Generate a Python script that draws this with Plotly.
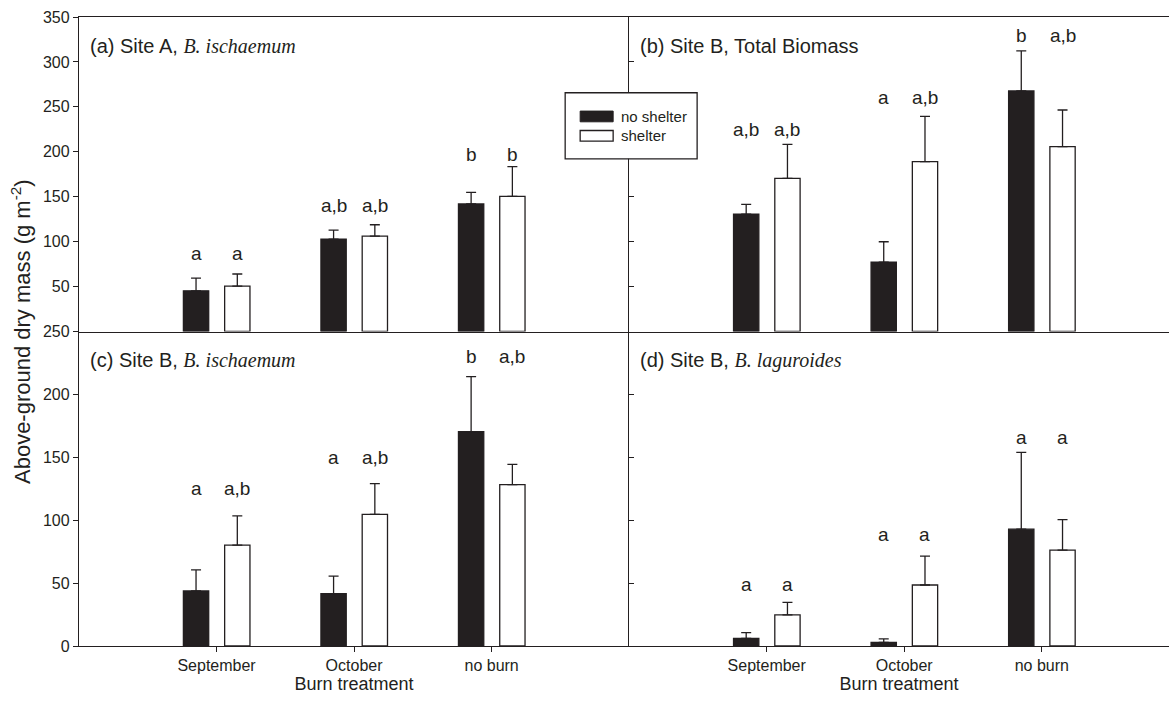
import plotly.graph_objects as go

# ---------------- data ----------------
categories = ["September", "October", "no burn"]

a_no_shelter = [45.3, 102.9, 141.9]
a_no_shelter_se = [14.2, 10.0, 12.9]
a_shelter = [50.5, 106.2, 150.3]
a_shelter_se = [13.5, 12.6, 33.1]

b_no_shelter = [130.7, 77.3, 267.7]
b_no_shelter_se = [10.7, 22.6, 44.5]
b_shelter = [170.4, 189.0, 205.7]
b_shelter_se = [37.8, 50.4, 40.8]

c_no_shelter = [43.8, 41.7, 170.4]
c_no_shelter_se = [16.7, 13.8, 43.8]
c_shelter = [80.2, 104.6, 128.2]
c_shelter_se = [23.3, 24.4, 16.2]

d_no_shelter = [6.1, 2.9, 92.9]
d_no_shelter_se = [4.5, 2.7, 61.0]
d_shelter = [24.7, 48.5, 76.2]
d_shelter_se = [9.9, 23.0, 24.3]

# significance letters, (no shelter, shelter) per burn treatment
a_letters = [("a", "a"), ("a,b", "a,b"), ("b", "b")]
b_letters = [("a,b", "a,b"), ("a", "a,b"), ("b", "a,b")]
c_letters = [("a", "a,b"), ("a", "a,b"), ("b", "a,b")]
d_letters = [("a", "a"), ("a", "a"), ("a", "a")]

# ---------------- layout constants ----------------
W, H = 1169, 702
ML, MR, MT, MB = 78.7, 0, 17.3, 56.3
INK = "#231f20"
SANS = "Liberation Sans, Arial, sans-serif"

BAR_W = 0.184
OFF_NS = -0.149   # centre offset of the no-shelter bar
OFF_S = 0.151     # centre offset of the shelter bar

# baseline height (data units) of each group's letters
letter_heights = {
    "a": [80.0, 133.0, 189.3],
    "b": [217.9, 253.2, 322.3],
    "c": [120.0, 144.7, 224.8],
    "d": [43.4, 83.4, 160.6],
}


def px_x(px):
    return (px - ML) / (W - ML - MR)


def px_y(py):
    return (H - MB - py) / (H - MT - MB)


x_split = px_x(629)
right_range = (W - 629) / ((629 - ML) / 4.0)

panels = [
    ("a", a_no_shelter, a_no_shelter_se, a_shelter, a_shelter_se, a_letters),
    ("b", b_no_shelter, b_no_shelter_se, b_shelter, b_shelter_se, b_letters),
    ("c", c_no_shelter, c_no_shelter_se, c_shelter, c_shelter_se, c_letters),
    ("d", d_no_shelter, d_no_shelter_se, d_shelter, d_shelter_se, d_letters),
]

fig = go.Figure()
annotations = []
pos = [1, 2, 3]

for i, (key, ns, ns_se, s, s_se, letters) in enumerate(panels):
    n = i + 1
    xa = "x" if n == 1 else f"x{n}"
    ya = "y" if n == 1 else f"y{n}"
    err_style = dict(type="data", symmetric=False, color=INK, thickness=1.3, width=5)
    fig.add_trace(go.Bar(
        x=pos, y=ns, width=BAR_W, offset=OFF_NS - BAR_W / 2,
        marker=dict(color=INK, line=dict(color=INK, width=1.3)),
        error_y=dict(array=ns_se, arrayminus=[0] * len(ns), **err_style),
        xaxis=xa, yaxis=ya, showlegend=False, name="no shelter",
    ))
    fig.add_trace(go.Bar(
        x=pos, y=s, width=BAR_W, offset=OFF_S - BAR_W / 2,
        marker=dict(color="white", line=dict(color=INK, width=1.3)),
        error_y=dict(array=s_se, arrayminus=[0] * len(s), **err_style),
        xaxis=xa, yaxis=ya, showlegend=False, name="shelter",
    ))
    for j, (l_ns, l_s) in enumerate(letters):
        for txt, off in ((l_ns, OFF_NS), (l_s, OFF_S)):
            annotations.append(dict(
                x=pos[j] + off, y=letter_heights[key][j], xref=xa, yref=ya,
                text=txt, showarrow=False, yanchor="bottom", yshift=-6,
                font=dict(family=SANS, size=19, color=INK),
            ))

# panel titles
italic = "<i><span style='font-family:Liberation Serif'>{}</span></i>"
titles = [
    ("(a) Site A, " + italic.format("B. ischaemum"), 88, 46.7),
    ("(b) Site B, Total Biomass", 638, 46.7),
    ("(c) Site B, " + italic.format("B. ischaemum"), 88, 360),
    ("(d) Site B, " + italic.format("B. laguroides"), 638, 360),
]
for txt, x, y in titles:
    annotations.append(dict(
        x=px_x(x), y=px_y(y), xref="paper", yref="paper", text=txt,
        showarrow=False, xanchor="left", yanchor="middle",
        font=dict(family=SANS, size=20, color=INK),
    ))

# y-axis title
annotations.append(dict(
    x=px_x(20), y=px_y(331.7), xref="paper", yref="paper",
    text="Above-ground dry mass (g m<sup>-2</sup>)", textangle=-90,
    showarrow=False, xanchor="center", yanchor="middle",
    font=dict(family=SANS, size=22, color=INK),
))

# legend drawn as a framed box
shapes = [
    dict(type="rect", xref="paper", yref="paper", x0=px_x(565), x1=px_x(697),
         y0=px_y(159), y1=px_y(93), fillcolor="white", line=dict(color=INK, width=1.3),
         layer="above"),
    dict(type="rect", xref="paper", yref="paper", x0=px_x(580), x1=px_x(613),
         y0=px_y(122), y1=px_y(111.3), fillcolor=INK, line=dict(color=INK, width=1),
         layer="above"),
    dict(type="rect", xref="paper", yref="paper", x0=px_x(580), x1=px_x(613),
         y0=px_y(141.3), y1=px_y(130.7), fillcolor="white", line=dict(color=INK, width=1.3),
         layer="above"),
]
for txt, y in (("no shelter", 117), ("shelter", 136)):
    annotations.append(dict(
        x=px_x(619), y=px_y(y), xref="paper", yref="paper", text=txt,
        showarrow=False, xanchor="left", yanchor="middle",
        font=dict(family=SANS, size=15, color=INK),
    ))

axis_common = dict(showline=True, linecolor=INK, linewidth=1.3, showgrid=False,
                   zeroline=False, tickcolor=INK, tickwidth=1.3, ticklen=5,
                   tickfont=dict(family=SANS, size=16, color=INK))

top_x = dict(axis_common, tickvals=pos, ticks="", showticklabels=False, mirror=True)
bot_x = dict(axis_common, tickvals=pos, ticktext=categories, ticks="outside",
             title=dict(text="Burn treatment", font=dict(family=SANS, size=18, color=INK),
                        standoff=3))

fig.update_layout(
    width=W, height=H,
    margin=dict(l=ML, r=MR, t=MT, b=MB, pad=0),
    paper_bgcolor="white", plot_bgcolor="white",
    barmode="overlay",
    xaxis=dict(top_x, domain=[0, x_split], range=[0, 4], anchor="y"),
    xaxis2=dict(top_x, domain=[x_split, 1], range=[0, right_range], anchor="y2"),
    xaxis3=dict(bot_x, domain=[0, x_split], range=[0, 4], anchor="y3"),
    xaxis4=dict(bot_x, domain=[x_split, 1], range=[0, right_range], anchor="y4"),
    yaxis=dict(axis_common, domain=[0.5, 1], range=[0, 350], tickvals=list(range(50, 351, 50)),
               ticks="outside", anchor="x"),
    yaxis2=dict(axis_common, domain=[0.5, 1], range=[0, 350], tickvals=list(range(50, 351, 50)),
                ticks="inside", showticklabels=False, anchor="x2"),
    yaxis3=dict(axis_common, domain=[0, 0.5], range=[0, 250], tickvals=list(range(0, 251, 50)),
                ticks="outside", anchor="x3"),
    yaxis4=dict(axis_common, domain=[0, 0.5], range=[0, 250], tickvals=list(range(0, 251, 50)),
                ticks="inside", showticklabels=False, anchor="x4"),
    annotations=annotations,
    shapes=shapes,
)

fig.write_html("out.html")
